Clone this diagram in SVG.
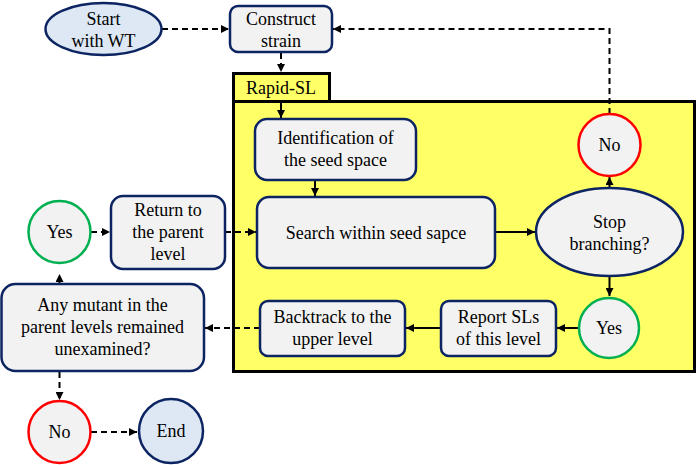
<svg xmlns="http://www.w3.org/2000/svg" width="697" height="465" viewBox="0 0 697 465">
<defs>
<marker id="ah" viewBox="0 0 10 10" refX="10" refY="5" markerWidth="4" markerHeight="4" orient="auto" markerUnits="strokeWidth">
<path d="M0,0 L10,5 L0,10 z" fill="#000"/>
</marker>
</defs>
<rect width="697" height="465" fill="#fff"/>
<g id="rapid-sl">
<rect x="233.5" y="101.5" width="461" height="270" fill="#ffff66" stroke="#000" stroke-width="3"/>
<rect x="233.5" y="73.5" width="96" height="28" fill="#ffff66" stroke="#000" stroke-width="3"/>
<text x="281" y="94" font-family="Liberation Serif" font-size="18" text-anchor="middle">Rapid-SL</text>
</g>
<g id="connectors" fill="none" stroke="#000" stroke-width="2" marker-end="url(#ah)">
<g stroke-dasharray="6,4">
<path d="M162,29 H229"/>
<path d="M281,53 V72"/>
<path d="M609.5,114 V29 H333"/>
<path d="M260,328 H205"/>
<path d="M59.5,284 V274"/>
<path d="M91,232 H110"/>
<path d="M225,232 H256"/>
<path d="M59.5,372 V400"/>
<path d="M91,432 H137"/>
</g>
<path d="M281,101 V118"/>
<path d="M315,181 V196"/>
<path d="M496,232 H535"/>
<path d="M609.5,188 V177"/>
<path d="M609.5,277 V296"/>
<path d="M578,328 H557"/>
<path d="M441,328 H406"/>
</g>
<g font-family="Liberation Serif" font-size="18" text-anchor="middle" stroke-width="2.5">
<g id="start">
<ellipse fill="#dee8f5" stroke="#0c2461" cx="103.5" cy="29" rx="58" ry="26"/>
<text x="103.5" y="25">Start</text>
<text x="103.5" y="47">with WT</text>
</g>
<g id="construct">
<rect fill="#f2f2f2" stroke="#0c2461" x="230" y="6" width="102" height="46" rx="8"/>
<text x="281" y="25">Construct</text>
<text x="281" y="47">strain</text>
</g>
<g id="identification">
<rect fill="#f2f2f2" stroke="#0c2461" x="255" y="119" width="161" height="61" rx="12"/>
<text x="335.5" y="144">Identification of</text>
<text x="335.5" y="166">the seed space</text>
</g>
<g id="search">
<rect fill="#f2f2f2" stroke="#0c2461" x="257" y="197" width="238" height="71" rx="12"/>
<text x="376" y="239">Search within seed sapce</text>
</g>
<g id="stop">
<ellipse fill="#f2f2f2" stroke="#0c2461" cx="609.5" cy="232" rx="73.5" ry="44"/>
<text x="609.5" y="228">Stop</text>
<text x="609.5" y="250">branching?</text>
</g>
<g id="no-top">
<circle fill="#f2f2f2" stroke="#ff0000" cx="609.5" cy="145" r="31"/>
<text x="609.5" y="151">No</text>
</g>
<g id="yes-right">
<circle fill="#f2f2f2" stroke="#00b050" cx="609" cy="328" r="30"/>
<text x="609" y="334">Yes</text>
</g>
<g id="report">
<rect fill="#f2f2f2" stroke="#0c2461" x="441" y="301" width="115" height="55" rx="8"/>
<text x="498.5" y="323">Report SLs</text>
<text x="498.5" y="345">of this level</text>
</g>
<g id="backtrack">
<rect fill="#f2f2f2" stroke="#0c2461" x="260" y="301" width="145" height="55" rx="8"/>
<text x="332.5" y="323">Backtrack to the</text>
<text x="332.5" y="345">upper level</text>
</g>
<g id="any-mutant">
<rect fill="#f2f2f2" stroke="#0c2461" x="1.5" y="284" width="202.5" height="87" rx="14"/>
<text x="102.5" y="311">Any mutant in the</text>
<text x="102.5" y="333">parent levels remained</text>
<text x="102.5" y="355">unexamined?</text>
</g>
<g id="yes-left">
<circle fill="#f2f2f2" stroke="#00b050" cx="59.5" cy="232" r="31"/>
<text x="59.5" y="238">Yes</text>
</g>
<g id="return">
<rect fill="#f2f2f2" stroke="#0c2461" x="111" y="196" width="114" height="73" rx="12"/>
<text x="168" y="216">Return to</text>
<text x="168" y="238">the parent</text>
<text x="168" y="260">level</text>
</g>
<g id="no-bottom">
<circle fill="#f2f2f2" stroke="#ff0000" cx="59.5" cy="432" r="31"/>
<text x="59.5" y="438">No</text>
</g>
<g id="end">
<circle fill="#dee8f5" stroke="#0c2461" cx="171" cy="431" r="32"/>
<text x="171" y="437">End</text>
</g>
</g>
</svg>
